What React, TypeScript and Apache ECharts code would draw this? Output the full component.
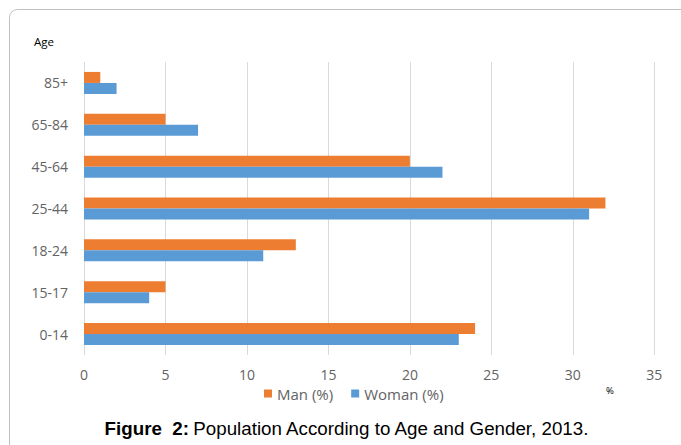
import React, { useEffect, useRef } from "react";
import * as echarts from "echarts";

const categories = ["0-14", "15-17", "18-24", "25-44", "45-64", "65-84", "85+"];
const manValues = [24, 5, 13, 32, 20, 5, 1];
const womanValues = [23, 4, 11, 31, 22, 7, 2];
const seriesNames = ["Man (%)", "Woman (%)"];
const xTicks = { min: 0, max: 35, interval: 5 };

export default function App() {
  const ref = useRef<HTMLDivElement>(null);
  useEffect(() => {
    if (!ref.current) return;
    const chart = echarts.init(ref.current, undefined, { renderer: "svg" });
    const labelFont = "'Open Sans', sans-serif";
    chart.setOption({
      animation: false,
      backgroundColor: "#ffffff",
      grid: { left: 84, right: 26.7, top: 62, bottom: 90, containLabel: false },
      xAxis: {
        type: "value",
        min: xTicks.min,
        max: xTicks.max,
        interval: xTicks.interval,
        axisLine: { show: false },
        axisTick: { show: false },
        splitLine: { show: true, lineStyle: { color: "#d9d9d9", width: 1 } },
        axisLabel: { color: "#636363", fontSize: 14, fontFamily: labelFont, margin: 12 },
      },
      yAxis: {
        type: "category",
        data: categories,
        axisLine: { show: false },
        axisTick: { show: false },
        splitLine: { show: false },
        axisLabel: { color: "#636363", fontSize: 14, fontFamily: labelFont, margin: 16 },
      },
      legend: {
        data: seriesNames,
        left: 259,
        top: 381,
        icon: "rect",
        itemWidth: 8,
        itemHeight: 8,
        itemGap: 18,
        textStyle: { color: "#636363", fontSize: 15, fontFamily: labelFont },
      },
      series: [
        {
          name: seriesNames[0],
          type: "bar",
          data: manValues,
          barWidth: 11,
          barGap: "0%",
          itemStyle: { color: "#ED7D31" },
        },
        {
          name: seriesNames[1],
          type: "bar",
          data: womanValues,
          barWidth: 11,
          barGap: "0%",
          itemStyle: { color: "#5B9BD5" },
        },
      ],
      graphic: [
        {
          type: "rect",
          shape: { x: 9.5, y: 9.5, width: 680, height: 460, r: 8 },
          style: { fill: "none", stroke: "#bfbfbf", lineWidth: 1 },
          silent: true,
        },
        {
          type: "text",
          x: 34,
          y: 41,
          style: { text: "Age", fill: "#000000", fontSize: 11.5, fontFamily: labelFont, verticalAlign: "middle" },
        },
        {
          type: "text",
          x: 606,
          y: 390,
          style: { text: "%", fill: "#000000", fontSize: 9.5, fontFamily: labelFont, verticalAlign: "middle" },
        },
        {
          type: "text",
          x: 347,
          y: 428,
          style: {
            text: "{b|Figure  2:} {n|Population According to Age and Gender, 2013.}",
            align: "center",
            verticalAlign: "middle",
            rich: {
              b: { fontWeight: "bold", fontSize: 18.75, fontFamily: "'Liberation Sans', Arial, sans-serif", fill: "#000" },
              n: { fontSize: 18.75, fontFamily: "'Liberation Sans', Arial, sans-serif", fill: "#000" },
            },
          },
        },
      ],
    });
    return () => chart.dispose();
  }, []);
  return (
    <div
      ref={ref}
      style={{ position: "fixed", left: 0, top: 0, width: 681, height: 445 }}
    />
  );
}
